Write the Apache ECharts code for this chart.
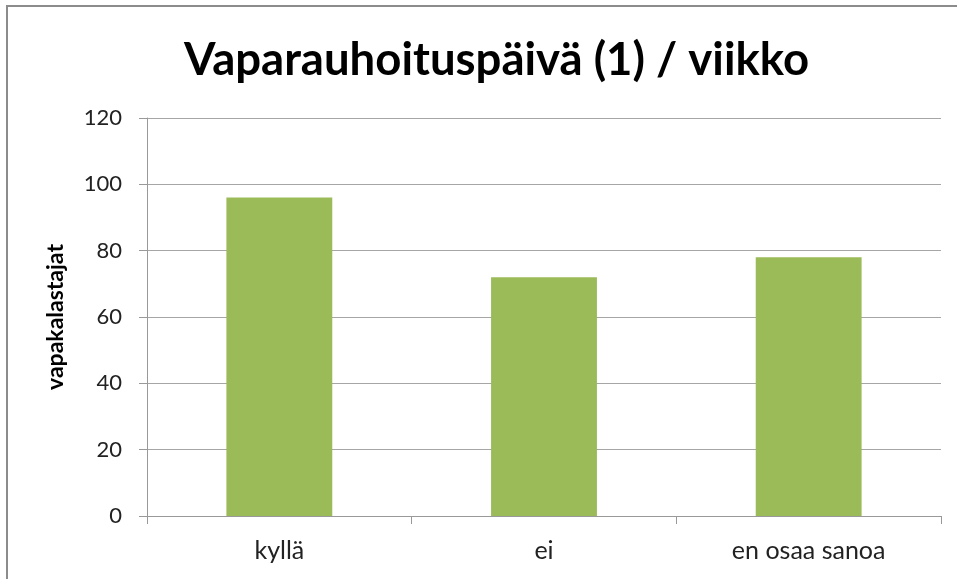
<!DOCTYPE html>
<html>
<head>
<meta charset="utf-8">
<script src="https://cdn.jsdelivr.net/npm/echarts@6/dist/echarts.min.js"></script>
<style>
  html, body { margin: 0; padding: 0; background: #fff; }
  #wrap { position: relative; width: 957px; height: 579px; }
  #chart { position: absolute; left: 0; top: 0; width: 957px; height: 579px; }
  #frame { position: absolute; left: 6px; top: 5px; right: -10px; bottom: -10px;
           border-top: 2px solid #8c8c8c; border-left: 2px solid #8c8c8c; pointer-events: none; }
</style>
</head>
<body>
<div id="wrap">
  <div id="chart"></div>
  <div id="frame"></div>
</div>
<script>
// arvot luettu kuvasta
var categories = ['kyllä', 'ei', 'en osaa sanoa'];
var values = [96, 72, 78];
var yTicks = [0, 20, 40, 60, 80, 100, 120];

var myChart = echarts.init(document.getElementById('chart'));

var option = {
    animation: false,
    title: {
        text: 'Vaparauhoituspäivä (1) / viikko',
        left: 179,
        top: 32,
        textStyle: {
            fontFamily: 'Lato',
            fontSize: 45.5,
            fontWeight: 'bold',
            color: '#000'
        }
    },
    grid: {
        left: 147,
        right: 16,
        top: 118,
        bottom: 63
    },
    xAxis: {
        type: 'category',
        data: categories,
        axisLine: { lineStyle: { color: '#999', width: 1 } },
        axisTick: { show: true, length: 8, lineStyle: { color: '#999' } },
        axisLabel: { fontFamily: 'Lato', fontSize: 25, color: '#222', margin: 22 }
    },
    yAxis: {
        type: 'value',
        min: yTicks[0],
        max: yTicks[yTicks.length - 1],
        interval: 20,
        name: 'vapakalastajat',
        nameLocation: 'middle',
        nameGap: 80,
        nameRotate: 90,
        nameTextStyle: { fontFamily: 'Lato', fontSize: 23, fontWeight: 'bold', color: '#000' },
        axisLine: { show: true, lineStyle: { color: '#999' } },
        axisTick: { show: true, length: 8, lineStyle: { color: '#999' } },
        splitLine: { lineStyle: { color: '#a6a6a6', width: 1 } },
        axisLabel: { fontFamily: 'Lato', fontSize: 22, color: '#222', margin: 25 }
    },
    series: [{
        type: 'bar',
        data: values,
        barWidth: '40%',
        itemStyle: { color: '#9bbb59' }
    }]
};

myChart.setOption(option);
</script>
</body>
</html>
